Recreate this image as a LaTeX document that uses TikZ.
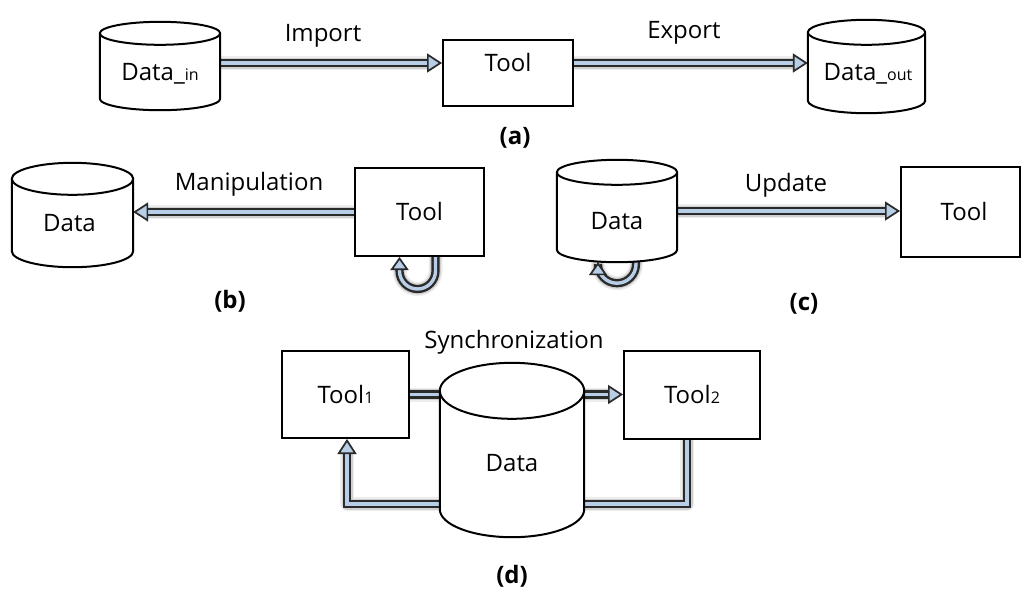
\documentclass[tikz,border=0pt]{standalone}
\usepackage{fontspec}
\setmainfont{Open Sans}
\usetikzlibrary{arrows.meta,bending,calc}

\definecolor{flowfill}{HTML}{B8CEE6}
\definecolor{flowedge}{HTML}{2A2A2A}

\tikzset{
  every node/.style={font=\fontsize{24}{28}\selectfont, text height=17.1pt, text depth=0pt, inner sep=0pt},
  caption/.style={font=\bfseries\fontsize{24}{28}\selectfont},
  toolbox/.style={draw=black, line width=2pt, fill=white},
  drumframe/.style={inner sep=0pt},
  drumline/.style={draw=black, line width=2pt, fill=white, line join=round},
  flowbase/.style={draw=flowedge, line width=2.4pt, double=flowfill, double distance=3.4pt,
    preaction={draw=black, draw opacity=0.07, line width=14pt, line join=round},
    preaction={draw=black, draw opacity=0.12, line width=11pt, line join=round}},
  flow/.style={flowbase,
    -{Triangle[length=15pt, width=19pt, color=flowedge, fill=flowfill, line width=1.7pt]}},
  loopflow/.style={flowbase,
    -{Triangle[bend, length=13pt, width=18pt, color=flowedge, fill=flowfill, line width=1.7pt]}},
}

% smaller text used for the index after a name
\newcommand{\sm}[1]{{\fontsize{16}{18}\selectfont #1}}

% database drum drawn over the frame node #1, with ellipse half-height #2
\newcommand{\drumoutline}[2]{%
  \path let \p1=(#1.north west), \p2=(#1.south east) in
    [drumline] (\x1,\y1-#2) -- (\x1,\y2+#2)
      arc[start angle=180, end angle=360, x radius={(\x2-\x1)/2}, y radius=#2]
      -- (\x2,\y1-#2)
      arc[start angle=0, end angle=180, x radius={(\x2-\x1)/2}, y radius=#2] -- cycle
    (\x1,\y1-#2)
      arc[start angle=180, end angle=360, x radius={(\x2-\x1)/2}, y radius=#2];
}

\begin{document}
\begin{tikzpicture}[x=1pt, y=-1pt]
\useasboundingbox (0,0) rectangle (1022,590);

% ---- (a) import / export
\node[drumframe, minimum width=120pt, minimum height=88pt] (din) at (160,66) {};
\node[toolbox, minimum width=130pt, minimum height=66pt] (ta) at (508,73) {\raisebox{10pt}{Tool}};
\node[drumframe, minimum width=117pt, minimum height=93pt] (dout) at (866.5,66.5) {};
\node (lblimport) at (323,33) {Import};
\node (lblexport) at (684,30) {Export};
\node[caption] (capa) at (515,136) {(a)};
\coordinate (rowa) at (0,63);
\draw[flow] (din.east |- rowa) -- (ta.west |- rowa);
\draw[flow] (ta.east |- rowa) -- (dout.west |- rowa);

% ---- (b) manipulation
\node[drumframe, minimum width=121pt, minimum height=104pt] (db) at (72.5,215) {};
\node[toolbox, minimum width=129pt, minimum height=88pt] (tb) at (419.5,212) {Tool};
\node (lblmanip) at (249,182) {Manipulation};
\node[caption] (capb) at (230,300) {(b)};
\draw[flow] (tb.west) -- (db.east |- tb.west);
\draw[loopflow] ([xshift=16pt]tb.south) -- ++(0,14)
  arc[start angle=0, end angle=-180, radius=18pt] -- ([xshift=-20pt]tb.south);

% ---- (c) update
\node[drumframe, minimum width=120pt, minimum height=102pt] (dc) at (617,211) {};
\node[toolbox, minimum width=119pt, minimum height=90pt] (tc) at (960.5,212) {\hspace*{7pt}Tool};
\node (lblupdate) at (786,183) {Update};
\node[caption] (capc) at (804,302) {(c)};
\draw[flow] (dc.east) -- (dc.east -| tc.west);
\draw[loopflow] ([xshift=19pt]dc.south) -- ++(0,2)
  arc[start angle=0, end angle=-180, radius=19pt] -- ([xshift=-19pt]dc.south);

% ---- (d) synchronization
\node[toolbox, minimum width=127pt, minimum height=87pt] (t1) at (345.5,394.5) {Tool\sm{1}};
\node[drumframe, minimum width=144pt, minimum height=174pt] (dd) at (512,450) {};
\node[toolbox, minimum width=136pt, minimum height=88pt] (t2) at (692,395) {Tool\sm{2}};
\node (lblsync) at (514,340) {Synchronization};
\node[caption] (capd) at (512,575) {(d)};
\draw[flow] (t1.east) -- (t1.east -| t2.west);
\draw[flow] ([xshift=-5pt]t2.south) -- ++(0,64) -| ([xshift=1.5pt]t1.south);

% ---- drums on top of the connectors
\drumoutline{din}{11.5pt}
\drumoutline{dout}{12.5pt}
\drumoutline{db}{16pt}
\drumoutline{dc}{12.5pt}
\drumoutline{dd}{28pt}

\node (din-text) at (160,72) {Data\_\sm{in}};
\node (dout-text) at (868,72) {Data\_\sm{out}};
\node (db-text) at (69.5,223) {Data};
\node (dc-text) at (617,221) {Data};
\node (dd-text) at (512,463) {Data};
\end{tikzpicture}
\end{document}
